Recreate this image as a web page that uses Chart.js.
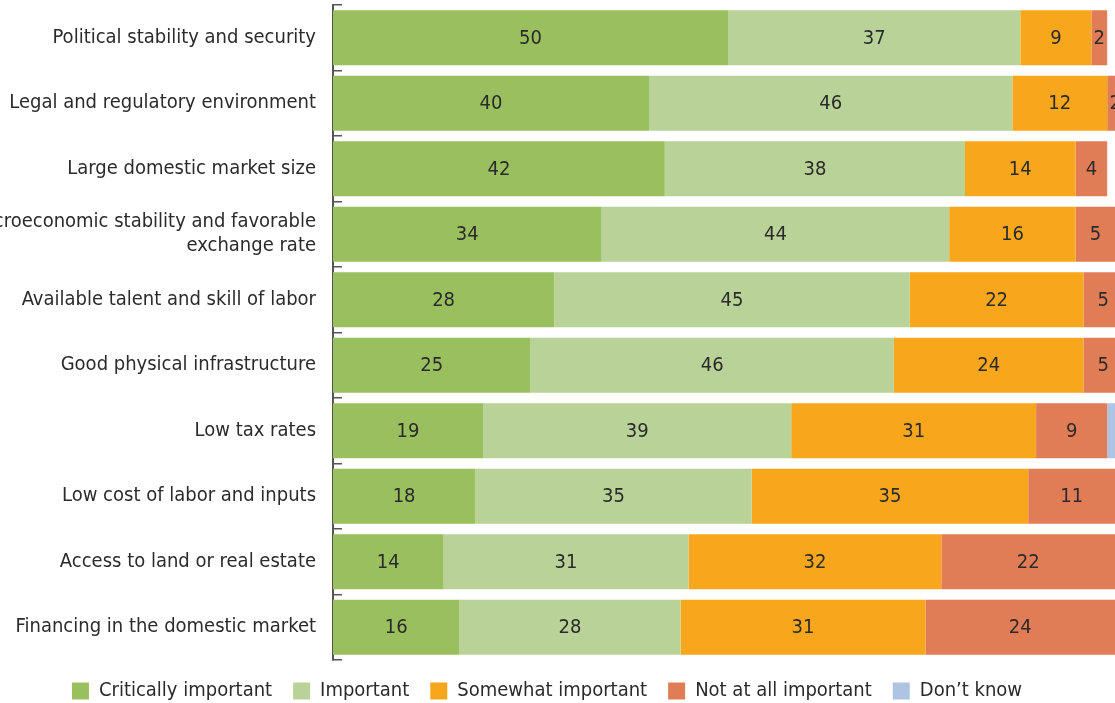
<!DOCTYPE html>
<html>
<head>
<meta charset="utf-8">
<script src="https://cdn.jsdelivr.net/npm/chart.js@4"></script>
<style>
    html, body { margin: 0; padding: 0; background: #fff; overflow: hidden; }
    body { width: 1115px; height: 703px; position: relative; }
    #wrap { position: absolute; left: -29px; top: 0; width: 1152px; height: 711px; }
</style>
</head>
<body>
<div id="wrap"><canvas id="factorsChart"></canvas></div>
<script>
const factors = [
    'Political stability and security',
    'Legal and regulatory environment',
    'Large domestic market size',
    ['Macroeconomic stability and favorable', 'exchange rate'],
    'Available talent and skill of labor',
    'Good physical infrastructure',
    'Low tax rates',
    'Low cost of labor and inputs',
    'Access to land or real estate',
    'Financing in the domestic market'
];

const criticallyImportant = [50, 40, 42, 34, 28, 25, 19, 18, 14, 16];
const important           = [37, 46, 38, 44, 45, 46, 39, 35, 31, 28];
const somewhatImportant   = [9, 12, 14, 16, 22, 24, 31, 35, 32, 31];
const notAtAllImportant   = [2, 2, 4, 5, 5, 5, 9, 11, 22, 24];
const dontKnow            = [0, 0, 0, 0, 0, 0, 1, 0, 1, 1];

const FONT = "'Liberation Sans Narrow', 'DejaVu Sans Condensed', sans-serif";
const TEXT = '#2b2b2b';

// writes the value in the middle of each segment (Don't know left unlabelled)
const segmentLabels = {
    id: 'segmentLabels',
    afterDatasetsDraw(chart) {
        const ctx = chart.ctx;
        ctx.save();
        ctx.font = '20px ' + FONT;
        ctx.fillStyle = TEXT;
        ctx.textAlign = 'center';
        ctx.textBaseline = 'middle';
        chart.data.datasets.forEach((ds, i) => {
            if (ds.noLabel) return;
            chart.getDatasetMeta(i).data.forEach((bar, j) => {
                const v = ds.data[j];
                if (!v) return;
                const p = bar.getCenterPoint();
                ctx.fillText(String(v), p.x, p.y + 1);
            });
        });
        ctx.restore();
    }
};

const ctx = document.getElementById('factorsChart').getContext('2d');

new Chart(ctx, {
    type: 'bar',
    data: {
        labels: factors,
        datasets: [
            { label: 'Critically important', data: criticallyImportant, backgroundColor: '#9abf5e' },
            { label: 'Important', data: important, backgroundColor: '#b9d297' },
            { label: 'Somewhat important', data: somewhatImportant, backgroundColor: '#f8a61c' },
            { label: 'Not at all important', data: notAtAllImportant, backgroundColor: '#e07d57' },
            { label: 'Don\u2019t know', data: dontKnow, backgroundColor: '#afc3e2', noLabel: true }
        ]
    },
    options: {
        indexAxis: 'y',
        responsive: true,
        maintainAspectRatio: false,
        animation: false,
        datasets: {
            bar: { borderWidth: 0, categoryPercentage: 1, barPercentage: 0.84 }
        },
        layout: { padding: { top: 5, left: 0, right: 0, bottom: 0 } },
        scales: {
            x: {
                stacked: true,
                display: false,
                min: 0,
                max: 100
            },
            y: {
                stacked: true,
                offset: true,
                afterFit(scale) {
                    scale.width = 362;
                    scale.paddingTop = 0;
                    scale.paddingBottom = 0;
                },
                grid: {
                    offset: true,
                    drawOnChartArea: false,
                    drawTicks: true,
                    tickLength: -9,
                    color: '#555',
                    lineWidth: 1.5
                },
                border: { display: true, color: '#555', width: 2 },
                ticks: {
                    padding: 26,
                    color: TEXT,
                    font: { family: FONT, size: 20 }
                }
            }
        },
        plugins: {
            legend: {
                position: 'bottom',
                labels: {
                    boxWidth: 17,
                    boxHeight: 17,
                    padding: 21,
                    color: TEXT,
                    font: { family: FONT, size: 20 }
                }
            },
            tooltip: { enabled: false }
        }
    },
    plugins: [segmentLabels]
});
</script>
</body>
</html>
